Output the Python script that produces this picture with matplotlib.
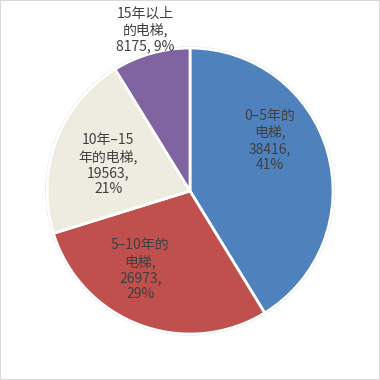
import numpy as np
import matplotlib
matplotlib.use('Agg')
from matplotlib import pyplot as plt
from matplotlib.patches import Rectangle, Circle

plt.rcParams['font.family'] = ['Noto Sans CJK SC', 'DejaVu Sans']

# 电梯使用年限分布
names = ['0–5年的\n电梯', '5–10年的\n电梯', '10年–15\n年的电梯', '15年以上\n的电梯']
counts = [38416, 26973, 19563, 8175]
pcts = ['41%', '29%', '21%', '9%']
colors = ['#4F81BD', '#C0504D', '#EEECE1', '#8064A2']

# 标签位置（极坐标：角度，半径比例）
lab_ang = [32.5, -122.3, 162.0, 105.6]
lab_r = [0.66, 0.65, 0.60, 1.17]
lab_txt = [
    names[0] + ',\n' + str(counts[0]) + ',\n' + pcts[0],
    names[1] + ',\n' + str(counts[1]) + ',\n' + pcts[1],
    names[2] + ',\n' + str(counts[2]) + ',\n' + pcts[2],
    names[3] + ',\n' + str(counts[3]) + ', ' + pcts[3],
]

fig = plt.figure(figsize=(3.8, 3.8), dpi=100)
ax = fig.add_axes([0, 0, 1, 1])

R = 143.0
ax.add_patch(Circle((0, 0), 1.005, facecolor='none', edgecolor='#D0D0D0', lw=1.2, zorder=0))
wedges, _ = ax.pie(counts, colors=colors, startangle=90, counterclock=False,
                   radius=1.0, wedgeprops=dict(edgecolor='white', linewidth=2))

for a, r, t in zip(lab_ang, lab_r, lab_txt):
    x = r * np.cos(np.radians(a))
    y = r * np.sin(np.radians(a))
    ax.text(x, y, t, ha='center', va='center', fontsize=10, color='#404040',
            linespacing=1.2)

ax.set_xlim(-190 / R, 190 / R)
ax.set_ylim(-189 / R, 191 / R)
ax.set_aspect('equal')
ax.axis('off')

fig.patches.append(Rectangle((0, 0), 1, 1, transform=fig.transFigure, fill=False,
                             edgecolor='#D9D9D9', lw=1.5))

fig.savefig('out.png', dpi=100, facecolor='white')
